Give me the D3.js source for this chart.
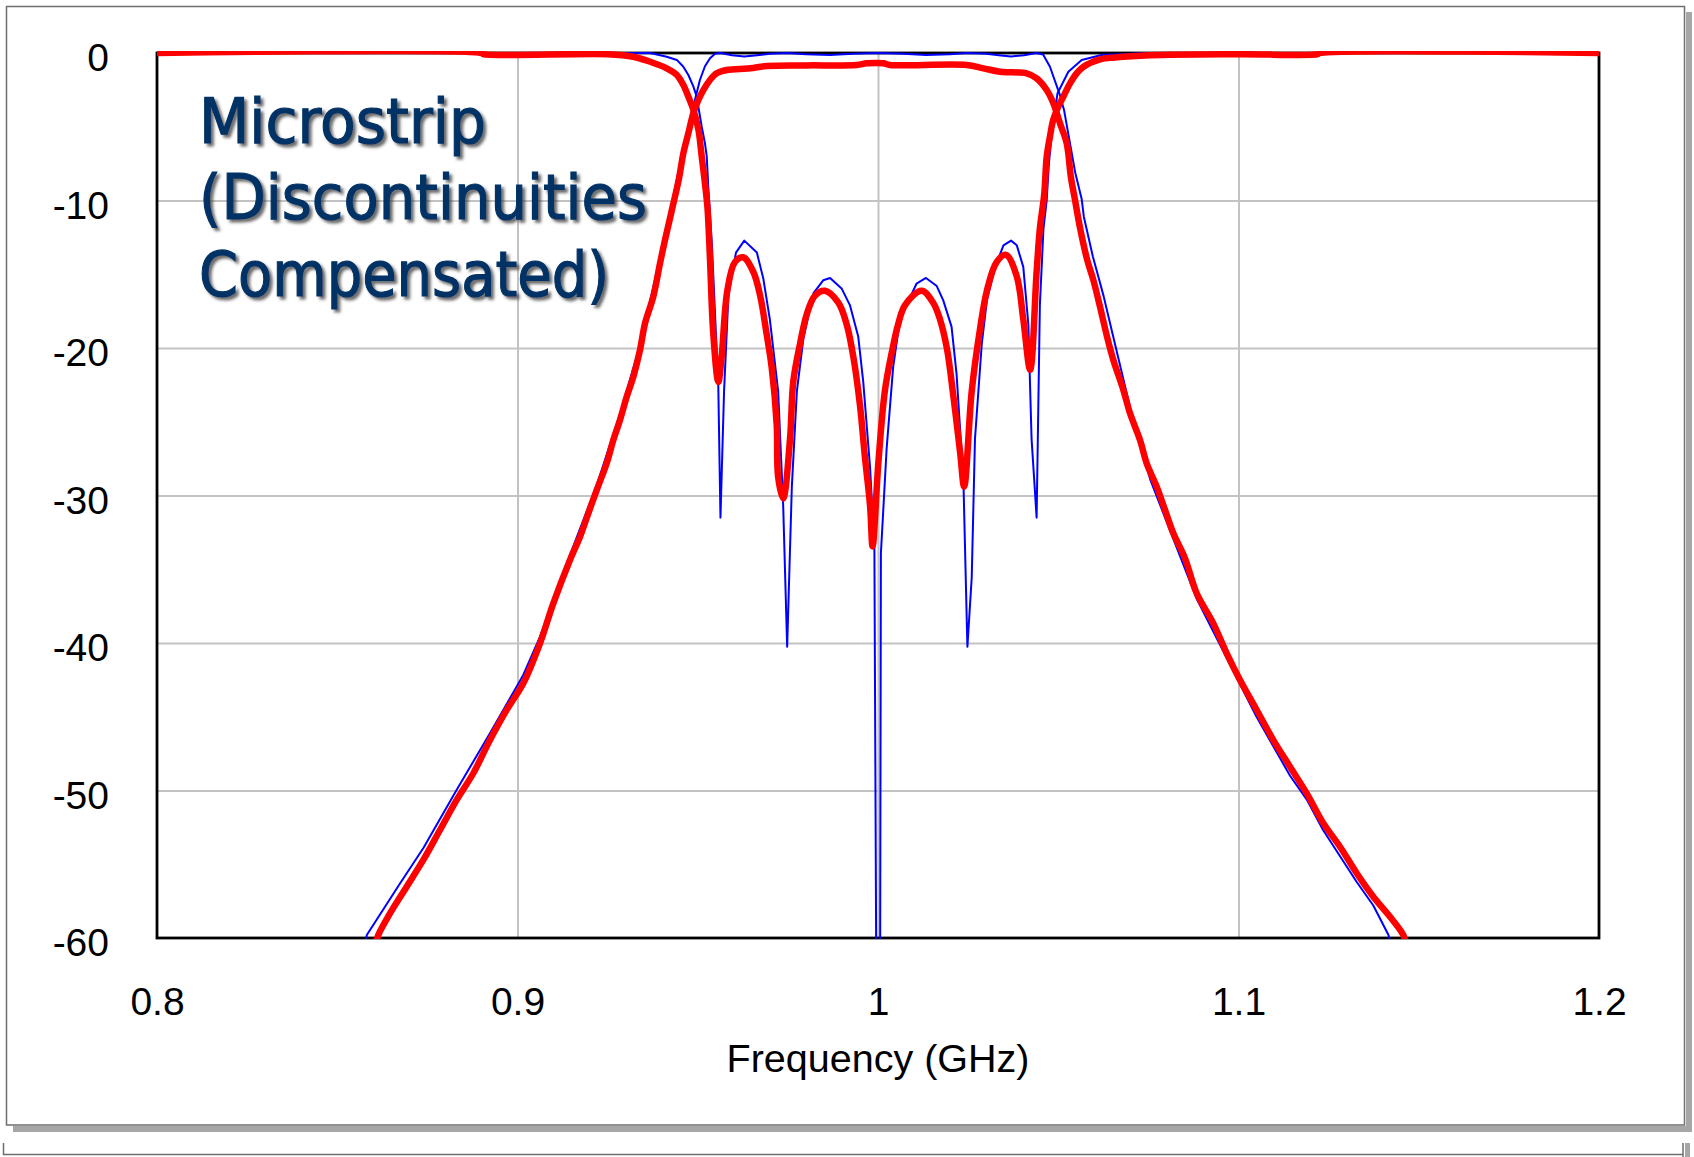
<!DOCTYPE html>
<html>
<head>
<meta charset="utf-8">
<script src="https://cdn.jsdelivr.net/npm/d3@7/dist/d3.min.js"></script>
<style>
  html, body { margin: 0; padding: 0; background: #ffffff; }
  svg { display: block; }
</style>
</head>
<body>
<script>
// ---------------- data (frequency in GHz, response in dB) ----------------
const freqTicks = [0.8, 0.9, 1.0, 1.1, 1.2];
const freqTickLabels = ["0.8", "0.9", "1", "1.1", "1.2"];
const dbTicks = [0, -10, -20, -30, -40, -50, -60];
const dbTickLabels = ["0", "-10", "-20", "-30", "-40", "-50", "-60"];
const xTitle = "Frequency (GHz)";
const titleLines = ["Microstrip", "(Discontinuities", "Compensated)"];

// thin blue: transmission
const blueS21 = [
  [0.8576,-60.6],[0.8582,-59.8],[0.8674,-56.3],[0.8739,-53.9],[0.8831,-49.97],[0.8924,-46.1],
  [0.9016,-42.17],[0.9062,-39.6],[0.9146,-34.0],[0.9220,-29.3],[0.9284,-24.5],[0.9340,-19.8],
  [0.9395,-13.9],[0.9428,-10.3],[0.9460,-6.4],[0.9483,-4.09],[0.9506,-1.83],[0.9520,-0.9],
  [0.9534,-0.36],[0.9548,-0.05],[0.9563,0],[0.9595,-0.15],[0.9629,-0.24],[0.9665,-0.15],
  [0.9700,-0.05],[0.9748,0],[0.9800,-0.08],[0.9867,-0.13],[0.9930,-0.05],[1.0000,0],
  [1.0070,-0.05],[1.0133,-0.13],[1.0200,-0.08],[1.0248,0],[1.0300,-0.05],[1.0335,-0.15],
  [1.0369,-0.24],[1.0405,-0.15],[1.0440,0],[1.0458,-0.1],[1.0477,-0.93],[1.0504,-2.8],
  [1.0516,-3.86],[1.0528,-5.5],[1.0547,-8.1],[1.0565,-9.9],[1.0571,-11.1],[1.0596,-13.8],
  [1.0626,-16.5],[1.0657,-19.7],[1.0700,-24.1],[1.0755,-28.9],[1.0820,-33.0],[1.0884,-37.0],
  [1.0967,-41.0],[1.1050,-45.0],[1.1143,-49.0],[1.1189,-50.6],[1.1235,-52.7],[1.1328,-56.2],
  [1.1374,-57.8],[1.1416,-59.8],[1.1425,-60.6]
];

// thin blue: reflection
const blueS11 = [
  [0.8,0],[0.9368,0],[0.9414,-0.25],[0.9442,-0.47],[0.9460,-0.93],[0.9474,-1.49],[0.9488,-2.28],
  [0.9497,-2.96],[0.9511,-5.0],[0.9520,-6.12],[0.9525,-7.03],[0.9529,-9.0],[0.9539,-12.88],
  [0.9557,-22.6],[0.9563,-31.5],[0.9573,-22.92],[0.9585,-16.45],[0.9606,-13.53],[0.9629,-12.72],
  [0.9664,-13.53],[0.9682,-15.31],[0.9700,-18.06],[0.9723,-22.92],[0.9737,-30.7],[0.9748,-40.25],
  [0.9761,-29.4],[0.9775,-22.92],[0.9793,-19.36],[0.9821,-16.28],[0.9848,-15.41],[0.9867,-15.25],
  [0.9899,-15.96],[0.9922,-17.09],[0.9945,-19.2],[0.9959,-22.28],[0.9978,-28.11],[0.9990,-33.6],
  [0.9995,-61],[1.0006,-61],[1.0008,-33.94],[1.0024,-26.8],[1.0042,-21.3],[1.0061,-18.06],
  [1.0107,-15.63],[1.0133,-15.25],[1.0163,-15.8],[1.0181,-16.77],[1.0204,-18.55],[1.0218,-21.79],
  [1.0237,-29.08],[1.0248,-40.25],[1.0260,-35.55],[1.0269,-26.16],[1.0288,-19.68],[1.0302,-16.77],
  [1.0325,-14.5],[1.0348,-13.04],[1.0369,-12.72],[1.0385,-13.04],[1.0403,-14.5],[1.0417,-18.39],
  [1.0426,-26.16],[1.0440,-31.5],[1.0449,-17.09],[1.0459,-11.91],[1.0468,-9.97],[1.0474,-7.5],
  [1.0484,-5.0],[1.0498,-2.73],[1.0528,-1.27],[1.0565,-0.47],[1.0620,-0.14],[1.0750,0],[1.2,0]
];

// thick red: transmission
const redS21 = [
  [0.8605,-60.6],[0.86139,-59.8],[0.86463,-58.33],[0.86926,-56.52],[0.87387,-54.71],[0.87850,-52.68],
  [0.88313,-50.64],[0.88774,-48.83],[0.89237,-46.58],[0.89700,-44.54],[0.90161,-42.73],[0.90624,-40.02],
  [0.90993,-37.31],[0.91456,-34.37],[0.91734,-32.8],[0.91964,-31.21],[0.92197,-29.63],[0.92474,-27.82],
  [0.92658,-26.24],[0.92843,-24.88],[0.93029,-23.3],[0.93213,-21.95],[0.93398,-20.14],[0.93537,-18.33],
  [0.93767,-16.52],[0.93953,-14.26],[0.94091,-12.68],[0.94277,-10.7],[0.94480,-8.5],[0.94600,-6.8],
  [0.94739,-5.44],[0.94877,-4.09],[0.95016,-3.19],[0.95155,-2.51],[0.95340,-1.83],[0.95525,-1.38],
  [0.95802,-1.15],[0.96449,-1.04],[0.96911,-0.88],[0.98000,-0.84],[0.99408,-0.81],[0.99686,-0.70],
  [1.00148,-0.70],[1.00333,-0.81],[1.02460,-0.81],[1.02922,-1.04],[1.03384,-1.27],[1.04124,-1.38],
  [1.04402,-1.72],[1.04679,-2.51],[1.04864,-3.41],[1.05049,-4.77],[1.05234,-6.12],[1.0535,-8.4],
  [1.0546,-9.9],[1.0560,-11.8],[1.05800,-14.0],[1.05973,-15.39],[1.06158,-17.2],[1.06350,-19.2],
  [1.06528,-20.81],[1.06806,-22.85],[1.06991,-24.43],[1.07268,-26.24],[1.07453,-27.82],[1.07731,-29.4],
  [1.07961,-30.98],[1.08192,-32.56],[1.08516,-34.26],[1.08840,-36.63],[1.09301,-38.67],[1.09673,-40.70],
  [1.10042,-42.51],[1.10505,-44.54],[1.10966,-46.58],[1.11429,-48.39],[1.11892,-50.19],[1.12353,-52.22],
  [1.12816,-53.81],[1.13279,-55.61],[1.13740,-57.2],[1.14203,-58.56],[1.14572,-59.8],[1.1466,-60.6]
];

// thick red: reflection
const redS11 = [
  [0.8,0],[0.8900,0],[0.8905,-0.08],[0.9250,-0.08],[0.9321,-0.25],[0.9368,-0.59],[0.9414,-1.04],
  [0.9442,-1.49],[0.9460,-2.17],[0.9474,-2.96],[0.9488,-3.86],[0.9502,-5.22],[0.9511,-7.03],
  [0.9520,-8.84],[0.9527,-10.5],[0.9534,-14.0],[0.9543,-19.0],[0.9557,-22.3],[0.9566,-20.66],
  [0.9582,-16.12],[0.9603,-14.18],[0.9626,-13.85],[0.9654,-14.83],[0.9673,-16.45],[0.9691,-19.04],
  [0.9705,-21.3],[0.9719,-25.2],[0.9723,-28.75],[0.9737,-30.2],[0.9756,-26.16],[0.9765,-22.28],
  [0.9784,-19.68],[0.9802,-17.74],[0.9825,-16.45],[0.9853,-16.12],[0.9890,-16.93],[0.9913,-18.39],
  [0.9932,-20.66],[0.9950,-23.89],[0.9964,-27.46],[0.9978,-30.7],[0.9985,-33.45],[1.0001,-27.78],
  [1.0019,-22.92],[1.0038,-20.33],[1.0056,-18.39],[1.0075,-17.09],[1.0121,-16.12],[1.0153,-16.93],
  [1.0172,-18.06],[1.0191,-20.01],[1.0209,-23.25],[1.0228,-27.13],[1.0239,-29.4],[1.0260,-22.92],
  [1.0283,-18.71],[1.0302,-16.12],[1.0329,-14.18],[1.0355,-13.69],[1.0385,-15.15],[1.0403,-18.06],
  [1.0422,-21.47],[1.0440,-14.83],[1.0449,-11.91],[1.0461,-9.6],[1.0468,-7.03],[1.0477,-5.67],
  [1.0486,-4.54],[1.0500,-3.64],[1.0514,-2.96],[1.0533,-2.05],[1.0551,-1.38],[1.0570,-0.93],
  [1.0616,-0.43],[1.0657,-0.3],[1.0755,-0.15],[1.1000,-0.08],[1.1220,-0.08],[1.1225,0],[1.2,0]
];

// ---------------- layout ----------------
const W = 1694, H = 1157;
const plot = { left: 157, right: 1599, top: 53, bottom: 938 };
const labelFont = "'Liberation Sans', Arial, sans-serif";

const svg = d3.select("body").append("svg")
  .attr("width", W).attr("height", H)
  .attr("viewBox", `0 0 ${W} ${H}`);

const defs = svg.append("defs");
const f = defs.append("filter").attr("id", "tshadow")
  .attr("x", "-5%").attr("y", "-20%").attr("width", "115%").attr("height", "150%");
f.append("feDropShadow").attr("dx", 3).attr("dy", 3).attr("stdDeviation", 1.6)
  .attr("flood-color", "#3a3a3a").attr("flood-opacity", 0.75);
defs.append("clipPath").attr("id", "plotclip").append("rect")
  .attr("x", plot.left - 2).attr("y", plot.top - 2)
  .attr("width", plot.right - plot.left + 4).attr("height", plot.bottom - plot.top + 3);

// ---------------- outer slide frame ----------------
svg.append("rect").attr("x", 13).attr("y", 1126).attr("width", 1679).attr("height", 6).attr("fill", "#a6a6a6");
svg.append("rect").attr("x", 1686).attr("y", 12).attr("width", 6).attr("height", 1120).attr("fill", "#a6a6a6");
svg.append("rect").attr("x", 6.5).attr("y", 6.5).attr("width", 1678).attr("height", 1118.5)
  .attr("fill", "#ffffff").attr("stroke", "#6e6e6e").attr("stroke-width", 1.5);
svg.append("path").attr("d", "M3.5,1143 V1154.5 H1683")
  .attr("fill", "none").attr("stroke", "#6e6e6e").attr("stroke-width", 1.5);
svg.append("path").attr("d", "M1683,1143 V1157").attr("stroke", "#6e6e6e").attr("stroke-width", 1.5);
svg.append("rect").attr("x", 1685).attr("y", 1143).attr("width", 5).attr("height", 14).attr("fill", "#a6a6a6");

// ---------------- scales ----------------
const x = d3.scaleLinear().domain([0.8, 1.2]).range([plot.left, plot.right]);
const y = d3.scaleLinear().domain([0, -60]).range([plot.top, plot.bottom]);

// gridlines
svg.append("g").attr("transform", `translate(0,${plot.bottom})`)
  .call(d3.axisBottom(x).tickValues(freqTicks.slice(1, -1)).tickSize(-(plot.bottom - plot.top)).tickFormat(""))
  .call(g => g.select(".domain").remove())
  .call(g => g.selectAll("line").attr("stroke", "#c3c3c3").attr("stroke-width", 2));
svg.append("g").attr("transform", `translate(${plot.left},0)`)
  .call(d3.axisLeft(y).tickValues(dbTicks.slice(1, -1)).tickSize(-(plot.right - plot.left)).tickFormat(""))
  .call(g => g.select(".domain").remove())
  .call(g => g.selectAll("line").attr("stroke", "#c3c3c3").attr("stroke-width", 2));

// plot frame
svg.append("rect").attr("x", plot.left).attr("y", plot.top)
  .attr("width", plot.right - plot.left).attr("height", plot.bottom - plot.top)
  .attr("fill", "none").attr("stroke", "#000").attr("stroke-width", 2.8);

// tick labels
svg.append("g").attr("transform", `translate(${plot.left},0)`)
  .call(d3.axisLeft(y).tickValues(dbTicks).tickSize(0).tickPadding(48)
    .tickFormat((d, i) => dbTickLabels[i]))
  .call(g => g.select(".domain").remove())
  .call(g => g.selectAll("text").attr("dy", "0.45em")
    .attr("font-family", labelFont).attr("font-size", 39).attr("fill", "#000"));

svg.append("g").attr("transform", `translate(0,${plot.bottom})`)
  .call(d3.axisBottom(x).tickValues(freqTicks).tickSize(0)
    .tickFormat((d, i) => freqTickLabels[i]))
  .call(g => g.select(".domain").remove())
  .call(g => g.selectAll("text").attr("y", 77).attr("dy", 0)
    .attr("font-family", labelFont).attr("font-size", 39).attr("fill", "#000"));

svg.append("text").attr("x", (plot.left + plot.right) / 2).attr("y", 1072)
  .attr("text-anchor", "middle")
  .attr("font-family", labelFont).attr("font-size", 39.5)
  .text(xTitle);

// ---------------- curves ----------------
const lineLin = d3.line().x(d => x(d[0])).y(d => y(d[1])).curve(d3.curveLinear);
const lineSmooth = d3.line().x(d => x(d[0])).y(d => y(d[1])).curve(d3.curveCatmullRom.alpha(0.5));

const curves = svg.append("g").attr("clip-path", "url(#plotclip)");
[blueS21, blueS11].forEach(s => {
  curves.append("path").datum(s).attr("d", lineLin)
    .attr("fill", "none").attr("stroke", "#0000ff").attr("stroke-width", 2)
    .attr("stroke-linejoin", "round");
});
[redS21, redS11].forEach(s => {
  curves.append("path").datum(s).attr("d", lineSmooth)
    .attr("fill", "none").attr("stroke", "#ff0000").attr("stroke-width", 6.5)
    .attr("stroke-linejoin", "round").attr("stroke-linecap", "butt");
});

// ---------------- annotation ----------------
const titleBaselines = [143, 219, 296];
const titleWidths = [287, 448, 410];
const tg = svg.append("g").attr("filter", "url(#tshadow)");
titleLines.forEach((t, i) => {
  tg.append("text").attr("x", 199).attr("y", titleBaselines[i])
    .attr("font-family", "'DejaVu Sans', Verdana, sans-serif").attr("font-size", 63)
    .attr("textLength", titleWidths[i]).attr("lengthAdjust", "spacingAndGlyphs")
    .attr("fill", "#003366").attr("stroke", "#003366").attr("stroke-width", 1.2)
    .text(t);
});
</script>
</body>
</html>
